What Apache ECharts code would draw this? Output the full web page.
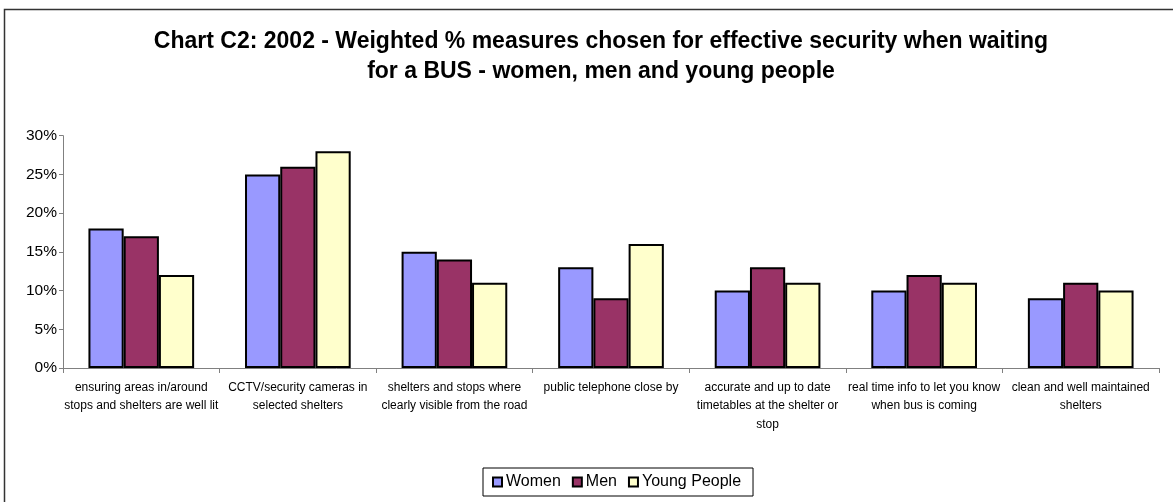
<!DOCTYPE html>
<html>
<head>
<meta charset="utf-8">
<script src="https://cdn.jsdelivr.net/npm/echarts@6/dist/echarts.min.js"></script>
<style>
html,body{margin:0;padding:0;background:#fff;}
#chart{width:1173px;height:502px;}
</style>
</head>
<body>
<div id="chart"></div>
<script>
const titleText = "Chart C2: 2002 - Weighted % measures chosen for effective security when waiting\nfor a BUS - women, men and young people";
const categories = [
  "ensuring areas in/around\nstops and shelters are well lit",
  "CCTV/security cameras in\nselected shelters",
  "shelters and stops where\nclearly visible from the road",
  "public telephone close by",
  "accurate and up to date\ntimetables at the shelter or\nstop",
  "real time info to let you know\nwhen bus is coming",
  "clean and well maintained\nshelters"
];
const seriesNames = ["Women", "Men", "Young People"];
const women = [18, 25, 15, 13, 10, 10, 9];
const men = [17, 26, 14, 9, 13, 12, 11];
const youngPeople = [12, 28, 11, 16, 11, 11, 10];
const yTicks = [0, 5, 10, 15, 20, 25, 30];
const colors = ["#9999FF", "#993366", "#FFFFCC"];

const font = "'Liberation Sans', Arial, sans-serif";
const chart = echarts.init(document.getElementById('chart'), null, {renderer: 'canvas'});
const seriesData = [women, men, youngPeople];
chart.setOption({
  animation: false,
  backgroundColor: '#fff',
  graphic: [{
    type: 'rect',
    shape: {x: 4.5, y: 9.5, width: 1200, height: 540},
    style: {fill: 'none', stroke: '#333', lineWidth: 1.5},
    silent: true
  }],
  title: {
    text: titleText,
    left: 596,
    top: 22,
    textAlign: 'center',
    textStyle: {fontFamily: font, fontWeight: 'bold', fontSize: 23, lineHeight: 30, color: '#000'}
  },
  legend: {
    data: seriesNames,
    left: 483,
    top: 468,
    height: 31,
    padding: [6, 12, 6, 9],
    borderColor: '#000',
    borderWidth: 1,
    itemWidth: 9,
    itemHeight: 9,
    itemGap: 11,
    textStyle: {fontFamily: font, fontSize: 16, color: '#000', padding: [0,0,0,-1]},
    icon: 'rect'
  },
  grid: {left: 63, right: 14, top: 135.7, bottom: 134, containLabel: false},
  xAxis: {
    type: 'category',
    data: categories,
    axisLine: {lineStyle: {color: '#808080', width: 1}},
    axisTick: {show: true, length: 5, lineStyle: {color: '#808080'}},
    axisLabel: {fontFamily: font, fontSize: 12, color: '#000', lineHeight: 18.5, margin: 10, interval: 0}
  },
  yAxis: {
    type: 'value',
    min: yTicks[0],
    max: yTicks[yTicks.length - 1],
    interval: yTicks[1] - yTicks[0],
    axisLine: {show: true, lineStyle: {color: '#808080', width: 1}},
    axisTick: {show: true, length: 4, lineStyle: {color: '#808080'}},
    splitLine: {show: false},
    axisLabel: {fontFamily: font, fontSize: 15.5, color: '#000', margin: 6, formatter: v => v + '%'}
  },
  series: seriesNames.map((name, i) => ({
    name: name,
    type: 'bar',
    data: seriesData[i],
    barGap: '0%',
    barCategoryGap: '32.5%',
    itemStyle: {color: colors[i], borderColor: '#000', borderWidth: 2}
  }))
});
</script>
</body>
</html>
